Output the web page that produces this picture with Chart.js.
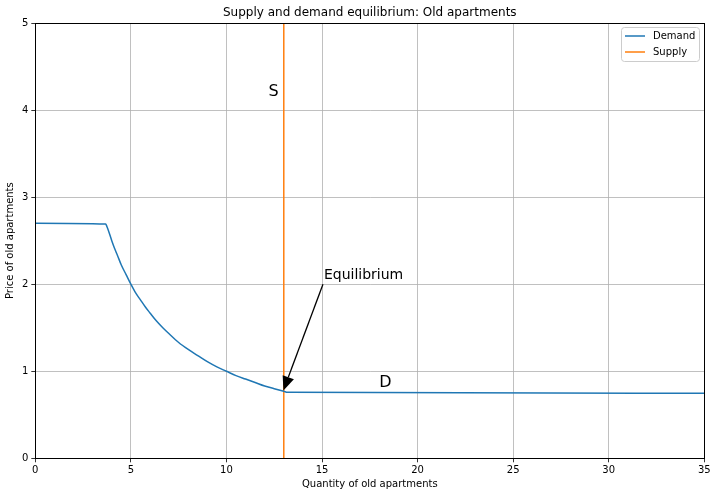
<!DOCTYPE html>
<html><head><meta charset="utf-8">
<script src="https://cdn.jsdelivr.net/npm/chart.js@4.4.0/dist/chart.umd.min.js"></script>
<style>html,body{margin:0;padding:0;background:#fff}#wrap{width:717px;height:496px}</style>
</head><body><div id="wrap"><canvas id="c" width="717" height="496"></canvas></div>
<script>
// Data
const demandX = [0, 3.68, 3.75, 3.85, 4.0, 4.15, 4.3, 4.5, 4.75, 5, 5.25, 5.5, 5.75, 6, 6.33, 6.67, 7, 7.5, 8, 8.5, 9, 9.5, 10, 10.5, 11, 11.5, 12, 12.5, 13, 13.2, 35];
const demandY = [2.70, 2.69, 2.66, 2.60, 2.50, 2.41, 2.33, 2.22, 2.11, 2.00, 1.90, 1.82, 1.74, 1.67, 1.58, 1.50, 1.43, 1.33, 1.25, 1.18, 1.11, 1.05, 1.00, 0.95, 0.91, 0.87, 0.83, 0.80, 0.77, 0.758, 0.748];
const supplyX = [13, 13];
const supplyY = [0, 5];
const xTicks = [0, 5, 10, 15, 20, 25, 30, 35];
const yTicks = [0, 1, 2, 3, 4, 5];
const seriesLabels = ['Demand', 'Supply'];
const annotTexts = ['S', 'Equilibrium', 'D'];
const annotX = [12.2, 15.1, 18.0];
const annotY = [4.16, 2.06, 0.82];
const arrowFrom = [15.05, 2.0];
const arrowTo = [12.98, 0.78];

const FONT = 'DejaVu Sans';
const colors = ['#1f77b4', '#ff7f0e'];

const extras = {
  id: 'extras',
  afterDraw(chart) {
    const ctx = chart.ctx, a = chart.chartArea;
    const xs = chart.scales.x, ys = chart.scales.y;
    ctx.save();
    // spines
    ctx.strokeStyle = '#000'; ctx.lineWidth = 1;
    ctx.strokeRect(Math.round(a.left) + 0.5, Math.round(a.top) + 0.5, Math.round(a.right - a.left), Math.round(a.bottom - a.top));
    // annotations
    ctx.fillStyle = '#000';
    ctx.textAlign = 'left'; ctx.textBaseline = 'alphabetic';
    annotTexts.forEach((t, i) => {
      ctx.font = (t === 'Equilibrium' ? 14 : 16) + 'px "' + FONT + '"';
      ctx.fillText(t, xs.getPixelForValue(annotX[i]), ys.getPixelForValue(annotY[i]));
    });
    // arrow
    const x1 = xs.getPixelForValue(arrowFrom[0]), y1 = ys.getPixelForValue(arrowFrom[1]);
    const x2 = xs.getPixelForValue(arrowTo[0]), y2 = ys.getPixelForValue(arrowTo[1]);
    const ang = Math.atan2(y2 - y1, x2 - x1);
    const hl = 14, hw = 6;
    const bx = x2 - hl * Math.cos(ang), by = y2 - hl * Math.sin(ang);
    ctx.strokeStyle = '#000'; ctx.lineWidth = 1.3;
    ctx.beginPath(); ctx.moveTo(x1, y1); ctx.lineTo(bx, by); ctx.stroke();
    ctx.beginPath();
    ctx.moveTo(x2, y2);
    ctx.lineTo(bx + hw * Math.sin(ang), by - hw * Math.cos(ang));
    ctx.lineTo(bx - hw * Math.sin(ang), by + hw * Math.cos(ang));
    ctx.closePath(); ctx.fill();
    // legend
    const lx = 621, ly = 27, lw = 78, lh = 34;
    ctx.fillStyle = 'rgba(255,255,255,0.8)';
    ctx.strokeStyle = '#cccccc'; ctx.lineWidth = 1;
    ctx.beginPath();
    if (ctx.roundRect) ctx.roundRect(lx + 0.5, ly + 0.5, lw, lh, 3); else ctx.rect(lx + 0.5, ly + 0.5, lw, lh);
    ctx.fill(); ctx.stroke();
    ctx.font = '10px "' + FONT + '"';
    ctx.textBaseline = 'middle';
    seriesLabels.forEach((lab, i) => {
      const yy = ly + 9 + i * 16;
      ctx.strokeStyle = colors[i]; ctx.lineWidth = 1.5;
      ctx.beginPath(); ctx.moveTo(lx + 4, yy); ctx.lineTo(lx + 24, yy); ctx.stroke();
      ctx.fillStyle = '#000';
      ctx.fillText(lab, lx + 32, yy);
    });
    ctx.restore();
  }
};

new Chart(document.getElementById('c'), {
  type: 'line',
  data: {
    datasets: [
      { label: seriesLabels[0], data: demandX.map((x, i) => ({x, y: demandY[i]})), borderColor: colors[0], backgroundColor: colors[0], borderWidth: 1.5, pointRadius: 0, cubicInterpolationMode: 'monotone' },
      { label: seriesLabels[1], data: supplyX.map((x, i) => ({x, y: supplyY[i]})), borderColor: colors[1], backgroundColor: colors[1], borderWidth: 1.5, pointRadius: 0, tension: 0 }
    ]
  },
  options: {
    responsive: false, animation: false,
    layout: { padding: { left: 0, right: 12.7, top: 0, bottom: 0 } },
    plugins: {
      legend: { display: false },
      tooltip: { enabled: false },
      title: { display: true, fullSize: false, text: 'Supply and demand equilibrium: Old apartments', color: '#000', font: { family: FONT, size: 12, weight: 'normal', lineHeight: 1.2 }, padding: { top: 6, bottom: 2.6 } }
    },
    scales: {
      x: {
        type: 'linear', min: 0, max: 35,
        afterBuildTicks: s => { s.ticks = xTicks.map(v => ({value: v})); },
        afterFit: s => { s.height = 37.7; },
        ticks: { color: '#000', font: { family: FONT, size: 10 }, padding: 2, maxRotation: 0, autoSkip: false },
        grid: { color: '#b0b0b0', lineWidth: 0.8, tickLength: 4, tickColor: '#000' },
        border: { color: '#000', width: 1 },
        title: { display: true, text: 'Quantity of old apartments', color: '#000', font: { family: FONT, size: 10 }, padding: { top: 0, bottom: 6 } }
      },
      y: {
        type: 'linear', min: 0, max: 5,
        afterBuildTicks: s => { s.ticks = yTicks.map(v => ({value: v})); },
        afterFit: s => { s.width = 35.3; },
        ticks: { color: '#000', font: { family: FONT, size: 10 }, padding: 3, autoSkip: false },
        grid: { color: '#b0b0b0', lineWidth: 0.8, tickLength: 4, tickColor: '#000' },
        border: { color: '#000', width: 1 },
        title: { display: true, text: 'Price of old apartments', color: '#000', font: { family: FONT, size: 10 }, padding: { top: 4, bottom: 0 } }
      }
    }
  },
  plugins: [extras]
});
</script></body></html>
